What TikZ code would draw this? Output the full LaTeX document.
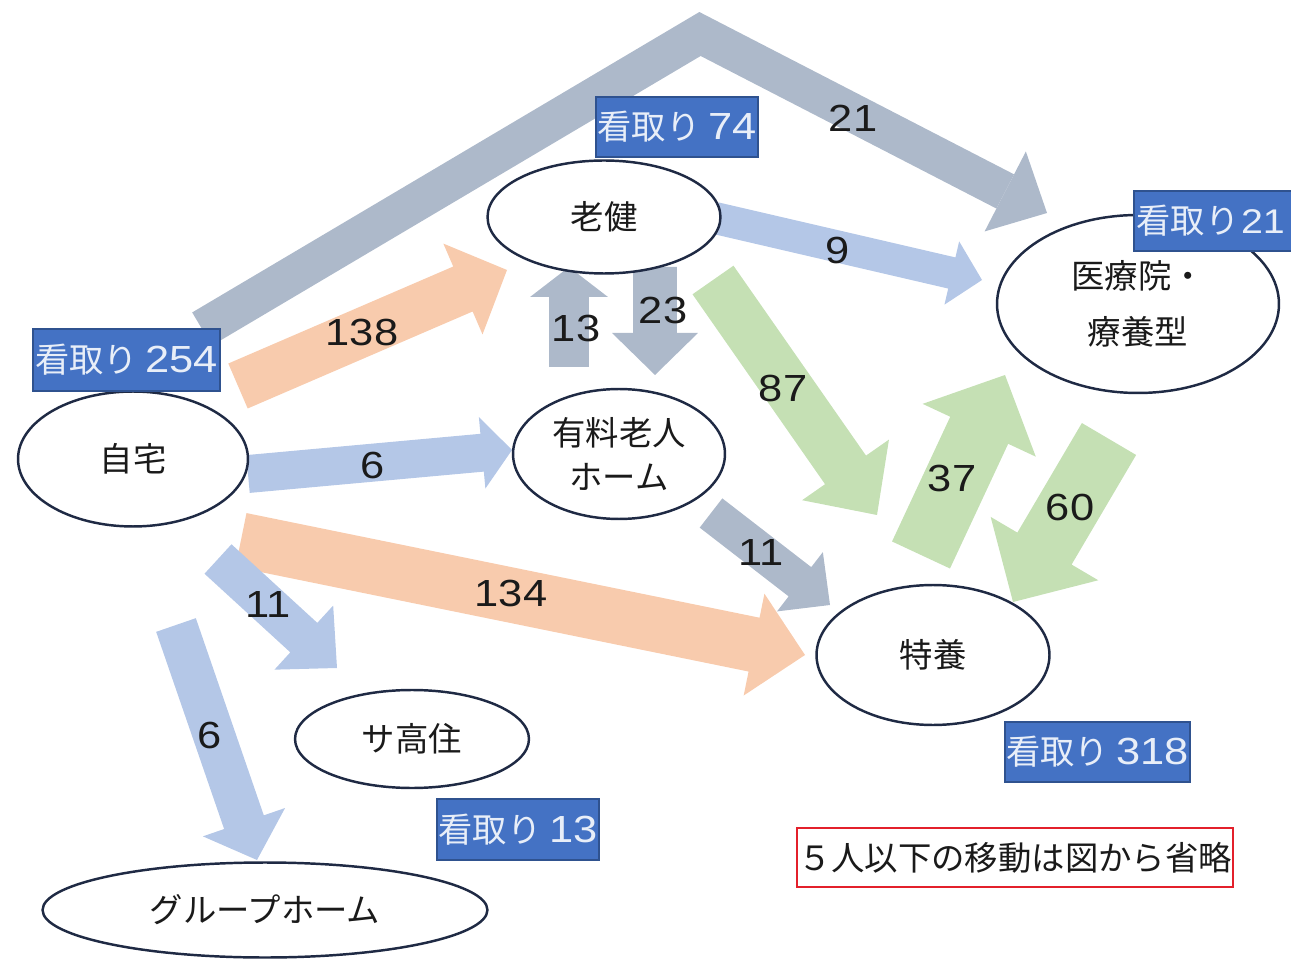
\documentclass[tikz,border=0pt]{standalone}
\usepackage{fontspec}
\setmainfont{Noto Sans CJK JP}
\newfontfamily\numfont[FakeStretch=1.15]{Liberation Sans}
\usetikzlibrary{calc,shapes.geometric}
\definecolor{orng}{HTML}{F8CBAD}
\definecolor{lblue}{HTML}{B4C7E7}
\definecolor{gblue}{HTML}{ADB9CA}
\definecolor{lgreen}{HTML}{C5E0B4}
\definecolor{boxblue}{HTML}{4472C4}
\definecolor{boxedge}{HTML}{2F528F}
\definecolor{navy}{HTML}{1F2A44}
\definecolor{txt}{HTML}{1A1A1A}
\definecolor{redline}{HTML}{E3202B}
\definecolor{boxtxt}{HTML}{E8EEF8}
% block arrow: start, tip, shaft width, head width, head length (px), style
\newcommand{\blockarrow}[6]{%
  \coordinate (bxn) at ($(#2)!#5*0.02cm!(#1)$);
  \fill[#6] ($(#1)!#3*0.01cm!90:(#2)$) -- ($(bxn)!#3*0.01cm!90:(#2)$)
    -- ($(bxn)!#4*0.01cm!90:(#2)$) -- (#2) -- ($(bxn)!#4*0.01cm!-90:(#2)$)
    -- ($(bxn)!#3*0.01cm!-90:(#2)$) -- ($(#1)!#3*0.01cm!-90:(#2)$) -- cycle;}
\newcommand{\mt}[1]{看取り {\numfont\fontsize{21.5}{24}\selectfont #1}}
\newcommand{\mtsmall}[1]{看取り\hspace{1pt}{\numfont\fontsize{19.5}{24}\selectfont #1}}
\begin{document}
\begin{tikzpicture}[x=0.02cm,y=-0.02cm,
  place/.style={draw=navy, line width=1.4pt, fill=white, ellipse, inner sep=0pt,
    font=\fontsize{19}{25.5}\selectfont, text=txt, align=center},
  mitori/.style={draw=boxedge, line width=1.1pt, fill=boxblue, text=boxtxt,
    font=\fontsize{19.5}{22}\selectfont, inner sep=0pt},
  num/.style={font=\numfont\fontsize{21.5}{24}\selectfont, text=txt, inner sep=0pt},
  note/.style={draw=redline, line width=1.1pt, fill=white, text=txt,
    font=\fontsize{19}{22}\selectfont, inner sep=0pt}
]
\useasboundingbox (0,0) rectangle (1291,962);

% arrow end points
\coordinate (a21s) at (202,329);
\coordinate (a21p) at (700,34);
\coordinate (a21t) at (1047,213);
\coordinate (a138s) at (238,386);  \coordinate (a138t) at (507,270);
\coordinate (a134s) at (241,540);  \coordinate (a134t) at (805,655);
\coordinate (a6hs) at (248,474);   \coordinate (a6ht) at (512,450);
\coordinate (a11ss) at (218,559);  \coordinate (a11st) at (337,668);
\coordinate (a6gs) at (176,625);   \coordinate (a6gt) at (257,860);
\coordinate (a13s) at (569,367);   \coordinate (a13t) at (569,267);
\coordinate (a23s) at (655,267);   \coordinate (a23t) at (655,375);
\coordinate (a9s) at (715,218);    \coordinate (a9t) at (982,280);
\coordinate (a87s) at (713,280);   \coordinate (a87t) at (877,515);
\coordinate (a37s) at (921,555);   \coordinate (a37t) at (1005,375);
\coordinate (a60s) at (1109,439);  \coordinate (a60t) at (1013,602);
\coordinate (a11ys) at (711,513);  \coordinate (a11yt) at (830,605);

% bent arrow 21
\coordinate (b21n) at ($(a21t)!47*0.02cm!(a21p)$);
\draw[gblue, line width=0.77cm, line join=miter] (a21s) -- (a21p) -- (b21n);
\fill[gblue] ($(b21n)!45*0.02cm!90:(a21t)$) -- (a21t) -- ($(b21n)!45*0.02cm!-90:(a21t)$) -- cycle;

% straight block arrows
\blockarrow{a138s}{a138t}{49}{99}{48}{orng}
\blockarrow{a134s}{a134t}{55}{104}{52}{orng}
\blockarrow{a6hs}{a6ht}{38}{72}{30}{lblue}
\blockarrow{a11ss}{a11st}{40}{87}{45}{lblue}
\blockarrow{a6gs}{a6gt}{42}{87}{40}{lblue}
\blockarrow{a13s}{a13t}{40}{78}{30}{gblue}
\blockarrow{a23s}{a23t}{44}{86}{42}{gblue}
\blockarrow{a9s}{a9t}{32}{65}{31}{lblue}
\blockarrow{a87s}{a87t}{50}{106}{55}{lgreen}
\blockarrow{a37s}{a37t}{64}{125}{61}{lgreen}
\blockarrow{a60s}{a60t}{63}{125}{62}{lgreen}
\blockarrow{a11ys}{a11yt}{37}{75}{38}{gblue}

% places
\node[place, minimum width=4.6cm, minimum height=2.7cm] (jitaku) at (133,459) {自宅};
\node[place, minimum width=4.66cm, minimum height=2.26cm] (roken) at (604,217) {老健};
\node[place, minimum width=4.24cm, minimum height=2.6cm] (yuryo) at (619,454) {有料老人\\ホーム};
\node[place, minimum width=5.64cm, minimum height=3.56cm, font=\fontsize{19}{32}\selectfont] (iryoin) at (1138,304) {医療院・\\療養型};
\node[place, minimum width=4.66cm, minimum height=2.8cm] (tokuyo) at (933,655) {特養};
\node[place, minimum width=4.68cm, minimum height=1.96cm] (sakoju) at (412,739) {サ高住};
\node[place, minimum width=8.9cm, minimum height=1.9cm] (gh) at (265,910) {グループホーム};

% mitori boxes
\node[mitori, minimum width=3.74cm, minimum height=1.24cm] (m254) at (126.5,360) {\mt{254}};
\node[mitori, minimum width=3.24cm, minimum height=1.2cm] (m74) at (677,127) {\mt{74}};
\node[mitori, minimum width=3.4cm, minimum height=1.2cm, text width=3.3cm, align=left, anchor=west] (m21) at (1133,221) {\mtsmall{21}};
\node[mitori, minimum width=3.7cm, minimum height=1.2cm] (m318) at (1097.5,752) {\mt{318}};
\node[mitori, minimum width=3.24cm, minimum height=1.22cm] (m13) at (518,829.5) {\mt{13}};

% note
\node[note, minimum width=8.72cm, minimum height=1.18cm] (memo) at (1015,857.5) {５人以下の移動は図から省略};

% numbers
\node[num] (n21) at (853,118) {21};
\node[num] (n138) at (362,332) {138};
\node[num] (n13) at (576,328) {13};
\node[num] (n23) at (663,310) {23};
\node[num] (n9) at (838,250) {9};
\node[num] (n87) at (783,388) {87};
\node[num] (n6h) at (373,465) {6};
\node[num] (n37) at (952,478) {37};
\node[num] (n60) at (1070,507) {60};
\node[num] (n11y) at (761,553) {11};
\node[num] (n134) at (511,593) {134};
\node[num] (n11s) at (268,605) {11};
\node[num] (n6g) at (210,735) {6};
\end{tikzpicture}
\end{document}
